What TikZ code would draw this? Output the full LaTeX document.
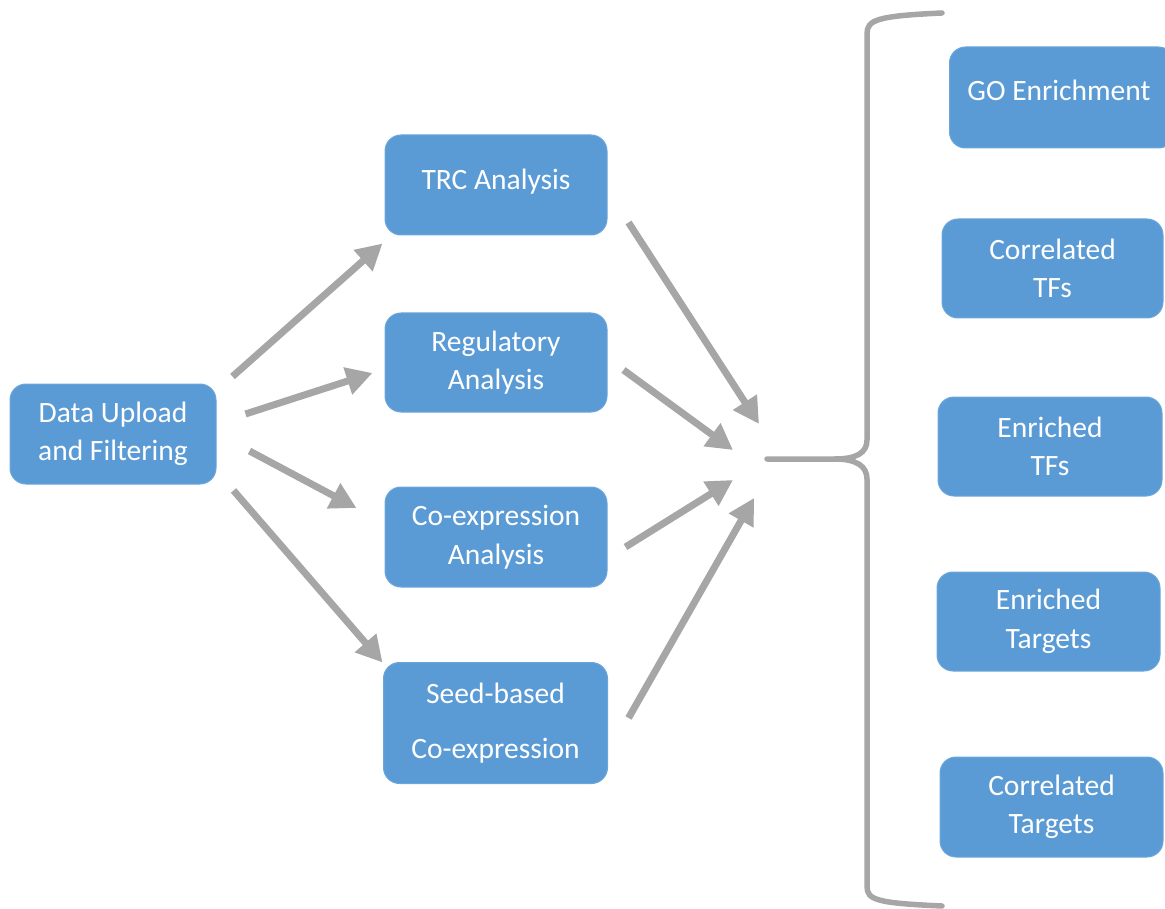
\documentclass[tikz,border=0pt]{standalone}
\usepackage{fontspec}
\setmainfont{Carlito}
\usetikzlibrary{arrows.meta,calc}
\definecolor{boxblue}{HTML}{5B9BD5}
\definecolor{boxedge}{HTML}{6BA6DB}
\definecolor{flowgray}{HTML}{A6A6A6}
\tikzset{
  stepbox/.style={rectangle, rounded corners=16pt, fill=boxblue, draw=boxedge,
    line width=1pt, text=white, align=center, inner sep=0pt,
    font=\fontsize{29.5}{38.5}\selectfont},
  flow/.style={draw=flowgray, line width=7pt,
    -{Triangle[length=26pt,width=27pt]}},
  bracket/.style={draw=flowgray, line width=5.5pt, line cap=round}
}
\begin{document}
\begin{tikzpicture}[x=1pt,y=-1pt]
\useasboundingbox (0,0) rectangle (1165,909);

% input and analysis modules
\node[stepbox, minimum width=206pt, minimum height=100pt] (data) at (113,434)
  {Data Upload\\and Filtering};
\node[stepbox, minimum width=222pt, minimum height=100pt] (trc) at (496,185)
  {\raisebox{12pt}{TRC Analysis}};
\node[stepbox, minimum width=222pt, minimum height=99pt] (reg) at (496,362.5)
  {Regulatory\\Analysis};
\node[stepbox, minimum width=222pt, minimum height=100pt] (coexp) at (496,537)
  {Co-expression\\Analysis};
\node[stepbox, minimum width=224pt, minimum height=121pt] (seed) at (495.5,723)
  {Seed-based\\[17pt]Co-expression};

% result modules
\node[stepbox, minimum width=225pt, minimum height=101pt] (go) at (1062,97.5)
  {\raisebox{15pt}{\hspace*{-6pt}GO Enrichment}};
\node[stepbox, minimum width=221pt, minimum height=99pt] (ctf) at (1052.5,268.5)
  {Correlated\\TFs};
\node[stepbox, minimum width=224pt, minimum height=99pt] (etf) at (1050,446.5)
  {Enriched\\TFs};
\node[stepbox, minimum width=223pt, minimum height=99pt] (etg) at (1048.5,621.5)
  {Enriched\\Targets};
\node[stepbox, minimum width=223pt, minimum height=100pt] (ctg) at (1051.5,807)
  {Correlated\\Targets};

% point where the analyses meet the bracket
\coordinate (merge) at (767,459);

% data upload feeds every analysis
\draw[flow] ([shift={(16,-7)}]data.north east) -- ([shift={(-2,8)}]trc.south west);
\draw[flow] ([shift={(29,-20)}]data.east) -- ([shift={(-12,10.5)}]reg.west);
\draw[flow] ([shift={(33,17)}]data.east) -- ([shift={(-28,-29)}]coexp.west);
\draw[flow] ([shift={(17,6)}]data.south east) -- ([shift={(-0.5,0.5)}]seed.north west);

% analyses converge
\draw[flow] ([shift={(21,-13)}]trc.south east) -- ([shift={(-8,-35)}]merge);
\draw[flow] ([shift={(16,7.5)}]reg.east) -- ([shift={(-34,-9)}]merge);
\draw[flow] ([shift={(18,10)}]coexp.east) -- ([shift={(-34,21)}]merge);
\draw[flow] ([shift={(20.5,-5)}]seed.east) -- ([shift={(-13,39)}]merge);

% curly bracket grouping the results
\draw[bracket] (merge) -- (835,459)
  .. controls (856,459) and (867,453) .. (867,440)
  -- (867,34)
  .. controls (867,20) and (876,16) .. (942,13);
\draw[bracket] (835,459)
  .. controls (856,459) and (867,466) .. (867,479)
  -- (867,886)
  .. controls (867,900) and (876,903) .. (942,906);
\end{tikzpicture}
\end{document}
